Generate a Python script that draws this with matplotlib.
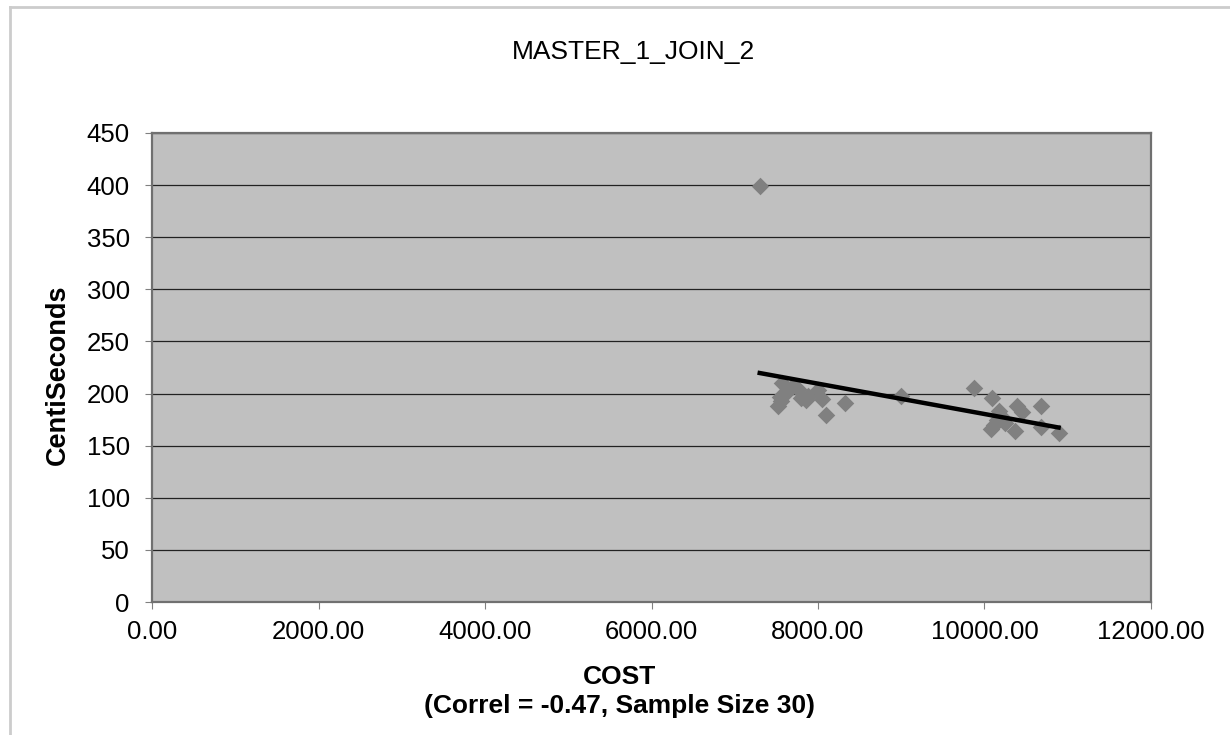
import numpy as np
import matplotlib.pyplot as plt
from matplotlib.lines import Line2D

# ----- DATA -----
cost = [7300, 7520, 7540, 7560, 7570, 7600, 7700, 7760, 7800, 7850,
        7880, 8000, 8050, 8100, 8320, 9000,
        9870, 10090, 10080, 10120, 10150, 10170, 10200, 10250, 10370, 10390,
        10450, 10680, 10680, 10890]
centisec = [399, 188, 197, 193, 210, 200, 207, 204, 196, 194,
            198, 203, 195, 179, 191, 198,
            205, 196, 166, 170, 175, 183, 178, 172, 164, 188,
            182, 188, 168, 162]

x_ticks = [0, 2000, 4000, 6000, 8000, 10000, 12000]
y_ticks = [0, 50, 100, 150, 200, 250, 300, 350, 400, 450]

plt.rcParams['font.family'] = ['Liberation Sans', 'DejaVu Sans']

W, H = 1230, 735
fig = plt.figure(figsize=(W / 100, H / 100), dpi=100)
ax = fig.add_axes([152/W, 1 - 602/H, (1151-152)/W, (602-133)/H])

ax.set_facecolor('#c0c0c0')
ax.set_xlim(0, 12000)
ax.set_ylim(0, 450)
ax.set_xticks(x_ticks)
ax.set_xticklabels([f"{v:.2f}" for v in x_ticks])
ax.set_yticks(y_ticks)
ax.tick_params(labelsize=18.5, length=5, color='#808080', direction='out')
ax.tick_params(axis='y', pad=11)
ax.tick_params(axis='x', pad=8)
ax.yaxis.grid(True, color='#222222', linewidth=0.9)
ax.set_axisbelow(True)
for s in ax.spines.values():
    s.set_color('#707070')
    s.set_linewidth(1.6)

# --- points ---
ax.scatter(cost, centisec, marker='D', s=80, color='#808080', zorder=3, linewidths=0)

# --- linear trendline (least squares, like Excel) ---
slope, icpt = np.polyfit(cost, centisec, 1)
xs = np.array([min(cost), max(cost)])
ax.plot(xs, slope * xs + icpt, color='black', linewidth=3.2, zorder=4)

# --- texts ---
fig.text(633/W, 1 - 52/H, "MASTER_1_JOIN_2", fontsize=19, ha='center', va='center')
ax.set_ylabel("CentiSeconds", fontsize=19.5, fontweight='bold')
ax.yaxis.set_label_coords((71 - 152) / 999, (602 - 375) / 469)
ax.set_xlabel("COST\n(Correl = -0.47, Sample Size 30)", fontsize=19,
              fontweight='bold', linespacing=1.25, va='top')
ax.xaxis.set_label_coords((619 - 152) / 999, (602 - 665) / 469)

# light chart frame
fig.add_artist(Line2D([10/W, 10/W], [0, 1 - 7/H], color='#cccccc', linewidth=2))
fig.add_artist(Line2D([10/W, 1], [1 - 7/H, 1 - 7/H], color='#cccccc', linewidth=2))

fig.savefig("out.png", dpi=100)
